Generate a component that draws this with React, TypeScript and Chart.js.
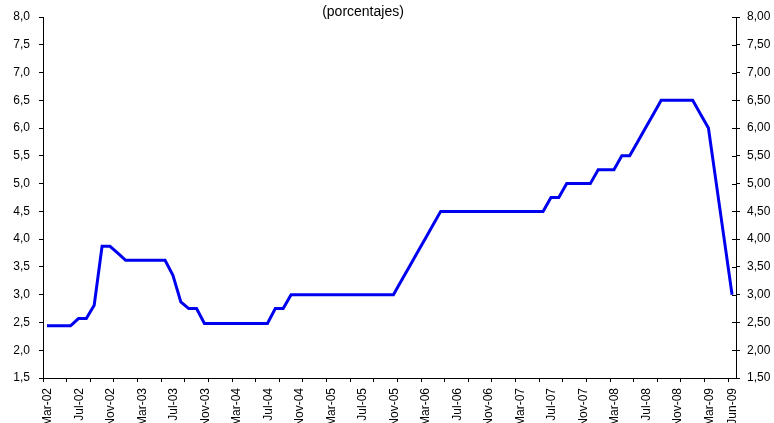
import React, { useEffect, useRef } from "react";
import { Chart, registerables } from "chart.js";

Chart.register(...registerables);

const monthNames = ["Ene", "Feb", "Mar", "Abr", "May", "Jun", "Jul", "Ago", "Sep", "Oct", "Nov", "Dic"];
const startYear = 2002;
const startMonth = 2; // Mar
const monthCount = 88; // Mar-02 .. Jun-09

const categories: string[] = [];
for (let i = 0; i < monthCount; i++) {
  const m = (startMonth + i) % 12;
  const y = startYear + Math.floor((startMonth + i) / 12);
  categories.push(monthNames[m] + "-" + String(y % 100).padStart(2, "0"));
}

const rates = [
  2.44, 2.44, 2.44, 2.44,
  2.57, 2.57,
  2.81,
  3.87, 3.87,
  3.75,
  3.62, 3.62, 3.62, 3.62, 3.62, 3.62,
  3.35,
  2.87,
  2.75, 2.75,
  2.48, 2.48, 2.48, 2.48, 2.48, 2.48, 2.48, 2.48, 2.48,
  2.75, 2.75,
  3.0, 3.0, 3.0, 3.0, 3.0, 3.0, 3.0, 3.0, 3.0, 3.0, 3.0, 3.0, 3.0, 3.0,
  3.25, 3.5, 3.75, 4.0, 4.25,
  4.5, 4.5, 4.5, 4.5, 4.5, 4.5, 4.5, 4.5, 4.5, 4.5, 4.5, 4.5, 4.5, 4.5,
  4.75, 4.75,
  5.0, 5.0, 5.0, 5.0,
  5.25, 5.25, 5.25,
  5.5, 5.5,
  5.75, 6.0, 6.25,
  6.5, 6.5, 6.5, 6.5, 6.5,
  6.25, 6.0, 5.0, 4.0, 3.0,
];

const titleText = "(porcentajes)";
const yMin = 1.5;
const yMax = 8.0;
const yStep = 0.5;

const FONT = "'Liberation Sans', Arial, sans-serif";

export default function App() {
  const canvasRef = useRef<HTMLCanvasElement | null>(null);

  useEffect(() => {
    const canvas = canvasRef.current;
    if (!canvas) return;

    const extras = {
      id: "extras",
      afterDraw(chart: any) {
        const ctx = chart.ctx;
        ctx.save();
        ctx.fillStyle = "#000";
        ctx.font = "14px " + FONT;
        ctx.textAlign = "center";
        ctx.textBaseline = "alphabetic";
        ctx.fillText(titleText, 363, 16);
        // inward tick marks on right axis
        const y2 = chart.scales.y2;
        const right = chart.chartArea.right;
        ctx.strokeStyle = "#000";
        ctx.lineWidth = 1;
        y2.ticks.forEach((_t: any, i: number) => {
          const py = Math.round(y2.getPixelForTick(i)) + 0.5;
          ctx.beginPath();
          ctx.moveTo(right - 4, py);
          ctx.lineTo(right, py);
          ctx.stroke();
        });
        ctx.restore();
      },
    };

    const chart = new Chart(canvas, {
      type: "line",
      data: {
        labels: categories,
        datasets: [
          {
            data: rates,
            borderColor: "#0000F0",
            borderWidth: 3,
            pointRadius: 0,
            tension: 0,
            fill: false,
            yAxisID: "y",
          },
        ],
      },
      options: {
        responsive: false,
        animation: false,
        layout: { padding: { top: 17, left: 0, right: 0, bottom: 0 } },
        plugins: {
          legend: { display: false },
          title: { display: false },
          tooltip: { enabled: false },
        },
        scales: {
          x: {
            type: "category",
            offset: true,
            grid: {
              display: true,
              drawOnChartArea: false,
              drawTicks: true,
              tickLength: 4,
              offset: true,
              tickColor: (c: any) => (c.index % 3 === 0 ? "#000" : "rgba(0,0,0,0)"),
            },
            border: { display: true, color: "#000", width: 1 },
            ticks: {
              autoSkip: false,
              minRotation: 90,
              maxRotation: 90,
              padding: 6,
              labelOffset: 1,
              color: "#000",
              font: { family: FONT, size: 12 },
              callback: (_v: any, i: number) =>
                i % 4 === 0 || i === categories.length - 1 ? categories[i] : "",
            },
            afterFit: (s: any) => {
              s.height = 82;
            },
          },
          y: {
            position: "left",
            min: yMin,
            max: yMax,
            grid: {
              display: true,
              drawOnChartArea: false,
              tickLength: 4,
              tickColor: "#000",
            },
            border: { display: true, color: "#000", width: 1 },
            ticks: {
              stepSize: yStep,
              padding: 9,
              color: "#000",
              font: { family: FONT, size: 12 },
              callback: (v: any) => Number(v).toFixed(1).replace(".", ","),
            },
            afterFit: (s: any) => {
              s.width = 43;
            },
          },
          y2: {
            position: "right",
            min: yMin,
            max: yMax,
            grid: {
              display: true,
              drawOnChartArea: false,
              tickLength: 4,
              tickColor: "#000",
            },
            border: { display: true, color: "#000", width: 1 },
            ticks: {
              stepSize: yStep,
              padding: 7,
              color: "#000",
              font: { family: FONT, size: 12 },
              callback: (v: any) => Number(v).toFixed(2).replace(".", ","),
            },
            afterFit: (s: any) => {
              s.width = 38;
            },
          },
        },
      },
      plugins: [extras],
    });

    return () => chart.destroy();
  }, []);

  return (
    <div style={{ position: "fixed", left: 0, top: 0, width: 774, height: 460, background: "#fff" }}>
      <canvas ref={canvasRef} width={774} height={460} style={{ display: "block" }} />
    </div>
  );
}
